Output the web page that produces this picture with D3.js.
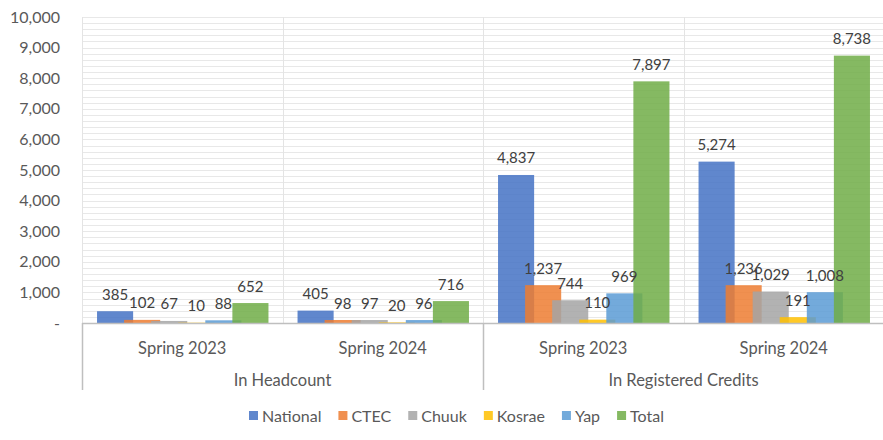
<!DOCTYPE html>
<html lang="en">
<head>
<meta charset="UTF-8">
<title>Headcount and Registered Credits</title>
<style>
  body { margin: 0; background: #fff; }
  svg text { font-family: Lato, "Open Sans", sans-serif; }
</style>
</head>
<body>
<div id="chart"></div>
<script src="https://cdn.jsdelivr.net/npm/d3@7/dist/d3.min.js"></script>
<script>
  // categories
  const periods = ["Spring 2023", "Spring 2024", "Spring 2023", "Spring 2024"];
  const measures = ["In Headcount", "In Registered Credits"];
  const series = ["National", "CTEC", "Chuuk", "Kosrae", "Yap", "Total"];

  // values per series, one per period column
  const national = [385, 405, 4837, 5274];
  const ctec = [102, 98, 1237, 1236];
  const chuuk = [67, 97, 744, 1029];
  const kosrae = [10, 20, 110, 191];
  const yap = [88, 96, 969, 1008];
  const total = [652, 716, 7897, 8738];

  const yTicks = [0, 1000, 2000, 3000, 4000, 5000, 6000, 7000, 8000, 9000, 10000];
  const colors = ["#4472C4", "#ED7D31", "#A5A5A5", "#FFC000", "#5B9BD5", "#70AD47"];

  const values = [national, ctec, chuuk, kosrae, yap, total];

  const width = 883, height = 440;
  const plotLeft = 82, plotRight = 884, plotTop = 17, plotBottom = 323;

  const svg = d3.select("#chart").append("svg")
    .attr("width", width)
    .attr("height", height);

  const x = d3.scaleBand()
    .domain(d3.range(periods.length))
    .range([plotLeft, plotRight]);

  const W = x.bandwidth();
  const barW = W * 0.18;
  // bars overlap: step is smaller than the bar width
  const inner = d3.scalePoint()
    .domain(series)
    .range([W * 0.075, W * 0.93 - barW]);

  const y = d3.scaleLinear()
    .domain([0, 10000])
    .range([plotBottom, plotTop]);

  // minor gridlines
  svg.append("g")
    .selectAll("line")
    .data(d3.range(200, 10001, 200))
    .enter().append("line")
    .attr("x1", plotLeft).attr("x2", plotRight)
    .attr("y1", d => Math.round(y(d)) + 0.5).attr("y2", d => Math.round(y(d)) + 0.5)
    .attr("stroke", "#e8e8e8")
    .attr("stroke-width", 1);

  // vertical gridlines between columns
  svg.append("g")
    .selectAll("line")
    .data(d3.range(periods.length + 1))
    .enter().append("line")
    .attr("x1", d => Math.round(plotLeft + d * W) + 0.5)
    .attr("x2", d => Math.round(plotLeft + d * W) + 0.5)
    .attr("y1", plotTop).attr("y2", plotBottom)
    .attr("stroke", "#e4e4e4");

  // y axis labels
  svg.append("g")
    .selectAll("text")
    .data(yTicks)
    .enter().append("text")
    .attr("x", 60)
    .attr("y", d => y(d))
    .attr("dy", "0.35em")
    .attr("text-anchor", "end")
    .attr("fill", "#595959")
    .style("font-size", "16px")
    .text(d => d === 0 ? "-" : d3.format(",")(d));

  // bars
  series.forEach(function (s, i) {
    const g = svg.append("g");
    g.selectAll("rect")
      .data(values[i])
      .enter().append("rect")
      .attr("x", (d, j) => x(j) + inner(s))
      .attr("y", d => y(d))
      .attr("width", barW)
      .attr("height", d => plotBottom - y(d))
      .attr("fill", colors[i])
      .attr("fill-opacity", 0.85);
  });

  // data labels
  series.forEach(function (s, i) {
    svg.append("g")
      .selectAll("text")
      .data(values[i])
      .enter().append("text")
      .attr("x", (d, j) => x(j) + inner(s) + barW / 2)
      .attr("y", d => y(d) - 11.5)
      .attr("text-anchor", "middle")
      .attr("fill", "#404040")
      .style("font-size", "15px")
      .text(d => d3.format(",")(d));
  });

  // x axis line and group dividers
  svg.append("line")
    .attr("x1", plotLeft).attr("x2", plotRight)
    .attr("y1", plotBottom + 0.5).attr("y2", plotBottom + 0.5)
    .attr("stroke", "#bfbfbf").attr("stroke-width", 1.5);

  [0, 2, 4].forEach(function (k) {
    const xx = Math.round(plotLeft + k * W) + 0.5;
    svg.append("line")
      .attr("x1", xx).attr("x2", xx)
      .attr("y1", plotBottom).attr("y2", 390)
      .attr("stroke", "#bfbfbf").attr("stroke-width", 1.5);
  });

  // period labels
  svg.append("g")
    .selectAll("text")
    .data(periods)
    .enter().append("text")
    .attr("x", (d, j) => x(j) + W / 2)
    .attr("y", 348)
    .attr("dy", "0.35em")
    .attr("text-anchor", "middle")
    .attr("fill", "#595959")
    .style("font-size", "16.5px")
    .text(d => d);

  // measure labels
  svg.append("g")
    .selectAll("text")
    .data(measures)
    .enter().append("text")
    .attr("x", (d, k) => plotLeft + (k * 2 + 1) * W)
    .attr("y", 380)
    .attr("dy", "0.35em")
    .attr("text-anchor", "middle")
    .attr("fill", "#595959")
    .style("font-size", "16.5px")
    .text(d => d);

  // legend
  const legend = svg.append("g");
  let lx = 249;
  series.forEach(function (s, i) {
    legend.append("rect")
      .attr("x", lx).attr("y", 411)
      .attr("width", 9).attr("height", 9)
      .attr("fill", colors[i])
      .attr("fill-opacity", 0.85);
    const t = legend.append("text")
      .attr("x", lx + 13)
      .attr("y", 416)
      .attr("dy", "0.35em")
      .attr("fill", "#595959")
      .style("font-size", "16px")
      .text(s);
    lx += 13 + t.node().getComputedTextLength() + 17;
  });
</script>
</body>
</html>
